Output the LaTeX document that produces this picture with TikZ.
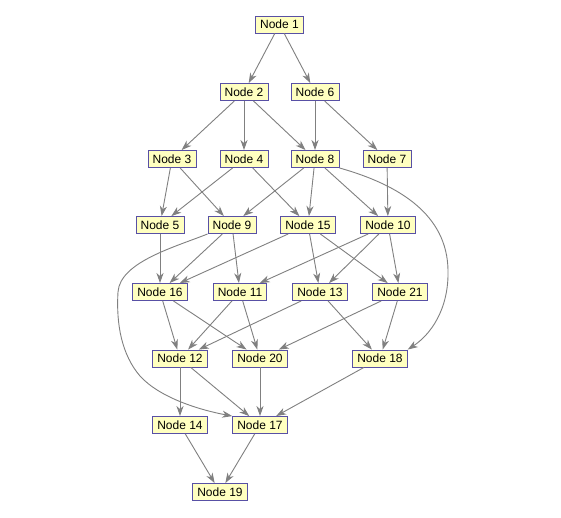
\documentclass[tikz,border=0pt]{standalone}
\usepackage{fontspec}
\setmainfont{Liberation Sans}
\usetikzlibrary{arrows.meta}
\definecolor{nodefill}{RGB}{255,255,192}
\definecolor{nodeline}{RGB}{88,80,165}
\definecolor{edgecol}{RGB}{128,128,128}
\tikzset{
  gnode/.style={draw=nodeline, fill=nodefill, line width=0.9pt, inner xsep=4.6pt, inner ysep=0pt,
    minimum height=17pt, font=\fontsize{12}{14}\selectfont},
  edge/.style={draw=edgecol, line width=0.9pt, -{Stealth[length=10pt,width=7pt,inset=3pt]}}
}
\begin{document}
\begin{tikzpicture}[x=1pt,y=-1pt]
\useasboundingbox[fill=white] (0,0) rectangle (561,517);
% row 1
\node[gnode] (n1) at (279.5,24.5) {Node 1};
% row 2
\node[gnode] (n2) at (244,92) {Node 2};
\node[gnode] (n6) at (315,92) {Node 6};
% row 3
\node[gnode] (n3) at (172,159) {Node 3};
\node[gnode] (n4) at (244,159) {Node 4};
\node[gnode] (n8) at (315,159) {Node 8};
\node[gnode] (n7) at (387,159) {Node 7};
% row 4
\node[gnode] (n5) at (160,225) {Node 5};
\node[gnode] (n9) at (232,225) {Node 9};
\node[gnode] (n15) at (308,225) {Node 15};
\node[gnode] (n10) at (388,225) {Node 10};
% row 5
\node[gnode] (n16) at (160,292) {Node 16};
\node[gnode] (n11) at (240,292) {Node 11};
\node[gnode] (n13) at (320,292) {Node 13};
\node[gnode] (n21) at (400,292) {Node 21};
% row 6
\node[gnode] (n12) at (180,358.5) {Node 12};
\node[gnode] (n20) at (260,358.5) {Node 20};
\node[gnode] (n18) at (380,358.5) {Node 18};
% row 7
\node[gnode] (n14) at (180,425) {Node 14};
\node[gnode] (n17) at (260,425) {Node 17};
% row 8
\node[gnode] (n19) at (220,492) {Node 19};

% bend points of the two long curves
\coordinate (c818) at (448,270);
\coordinate (c917a) at (118,292);
\coordinate (c917b) at (140,376);

\draw[edge] (n1) -- (n2);
\draw[edge] (n1) -- (n6);
\draw[edge] (n2) -- (n3);
\draw[edge] (n2) -- (n4);
\draw[edge] (n2) -- (n8);
\draw[edge] (n6) -- (n8);
\draw[edge] (n6) -- (n7);
\draw[edge] (n3) -- (n5);
\draw[edge] (n3) -- (n9);
\draw[edge] (n4) -- (n5);
\draw[edge] (n4) -- (n15);
\draw[edge] (n8) -- (n9);
\draw[edge] (n8) -- (n15);
\draw[edge] (n8) -- (n10);
\draw[edge] (n7) -- (n10);
\draw[edge] (n5) -- (n16);
\draw[edge] (n9) -- (n16);
\draw[edge] (n9) -- (n11);
\draw[edge] (n15) -- (n16);
\draw[edge] (n15) -- (n13);
\draw[edge] (n15) -- (n21);
\draw[edge] (n10) -- (n11);
\draw[edge] (n10) -- (n13);
\draw[edge] (n10) -- (n21);
\draw[edge] (n16) -- (n12);
\draw[edge] (n16) -- (n20);
\draw[edge] (n11) -- (n12);
\draw[edge] (n11) -- (n20);
\draw[edge] (n13) -- (n12);
\draw[edge] (n13) -- (n18);
\draw[edge] (n21) -- (n20);
\draw[edge] (n21) -- (n18);
\draw[edge] (n12) -- (n14);
\draw[edge] (n12) -- (n17);
\draw[edge] (n20) -- (n17);
\draw[edge] (n18) -- (n17);
\draw[edge] (n14) -- (n19);
\draw[edge] (n17) -- (n19);
% long curves
\draw[edge] (n8.south east) .. controls (400,185) and (447,215) .. (c818)
  .. controls (449,310) and (430,335) .. (n18.north east);
\draw[edge] (n9.south west) .. controls (175,247) and (120,262) .. (c917a)
  .. controls (116,325) and (122,355) .. (c917b)
  .. controls (160,398) and (200,410) .. (n17.north west);
\end{tikzpicture}
\end{document}
